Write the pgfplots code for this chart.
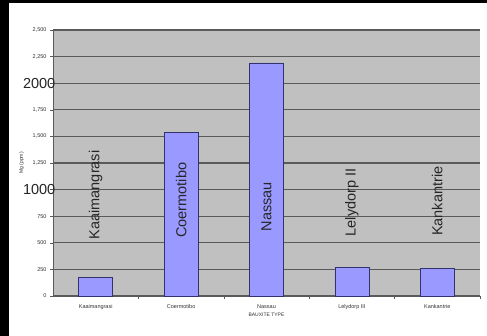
\documentclass[border=0pt]{standalone}
\usepackage{pgfplots}
\pgfplotsset{compat=1.18}
\usepackage{fontspec}
\setmainfont{Liberation Sans}

\definecolor{plotbg}{RGB}{192,192,192}
\definecolor{barfill}{RGB}{153,153,255}
\definecolor{barline}{RGB}{50,50,110}
\definecolor{gridc}{RGB}{90,90,90}
\definecolor{ticktext}{RGB}{50,50,50}

\begin{document}
\begin{tikzpicture}
  % fixed page frame
  \path[use as bounding box, fill=white] (0pt,0pt) rectangle (487pt,336pt);
  \fill[black] (0pt,0pt) rectangle (9pt,336pt);
  \fill[black] (0pt,333pt) rectangle (487pt,336pt);

  \begin{axis}[
    at={(53pt,40pt)}, anchor=south west,
    scale only axis, width=427pt, height=266pt,
    xmin=-0.5, xmax=4.5, ymin=0, ymax=2500,
    axis background/.style={fill=plotbg},
    axis line style={draw=gridc, line width=0.5pt},
    axis x line*=bottom, axis y line*=left,
    ytick={0,250,...,2500},
    yticklabels={0,250,500,750,,{1,250},{1,500},{1,750},,{2,250},{2,500}},
    ymajorgrids, grid style={draw=gridc, line width=1.1pt},
    y tick style={draw=gridc, line width=0.5pt},
    tick align=outside, major tick length=3pt,
    xtick={0,1,2,3,4},
    xticklabels={Kaaimangrasi,Coermotibo,Nassau,Lelydorp III,Kankantrie},
    x tick style={draw=none},
    minor xtick={0.5,1.5,2.5,3.5,4.5},
    minor x tick style={draw=gridc, line width=0.5pt},
    minor tick length=3pt,
    tick label style={font=\fontsize{5.5}{6}\selectfont, text=ticktext},
    xticklabel style={yshift=-2pt},
    xlabel={BAUXITE TYPE},
    xlabel style={font=\fontsize{5}{6}\selectfont, text=ticktext, yshift=3pt},
    ylabel={Mg (ppm)},
    ylabel style={font=\fontsize{5}{6}\selectfont, text=ticktext, yshift=2pt},
    clip=false,
  ]
    \addplot[ybar, bar width=34pt, fill=barfill, draw=barline, line width=0.7pt]
      coordinates {(0,178) (1,1535) (2,2190) (3,272) (4,262)};

    % overlaid labels
    \begin{scope}[every node/.style={font=\fontsize{14.5}{15}\selectfont, text=black!85}]
      \node[anchor=east, inner sep=0pt, xshift=2.5pt] at (axis cs:-0.5,2000) {2000};
      \node[anchor=east, inner sep=0pt, xshift=2.5pt] at (axis cs:-0.5,1000) {1000};
      \node[rotate=90] at (axis cs:0,950) {Kaaimangrasi};
      \node[rotate=90] at (axis cs:1,900) {Coermotibo};
      \node[rotate=90] at (axis cs:2,840) {Nassau};
      \node[rotate=90] at (axis cs:3,880) {Lelydorp II};
      \node[rotate=90] at (axis cs:4,890) {Kankantrie};
    \end{scope}
  \end{axis}
\end{tikzpicture}
\end{document}
